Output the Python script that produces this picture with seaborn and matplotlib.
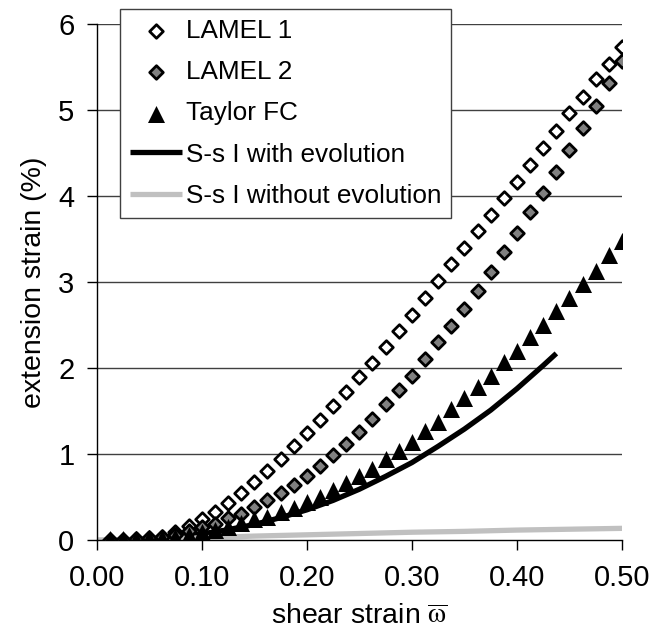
import numpy as np
import pandas as pd
import seaborn as sns
import matplotlib
matplotlib.use("Agg")
import matplotlib.pyplot as plt

# dati
shear = [0.0125, 0.025, 0.0375, 0.05, 0.0625, 0.075, 0.0875, 0.1, 0.1125, 0.125,
         0.1375, 0.15, 0.1625, 0.175, 0.1875, 0.2, 0.2125, 0.225, 0.2375, 0.25,
         0.2625, 0.275, 0.2875, 0.3, 0.3125, 0.325, 0.3375, 0.35, 0.3625, 0.375,
         0.3875, 0.4, 0.4125, 0.425, 0.4375, 0.45, 0.4625, 0.475, 0.4875, 0.5]

lamel1 = [0.00, 0.00, 0.01, 0.02, 0.04, 0.09, 0.16, 0.24, 0.33, 0.43,
          0.55, 0.67, 0.80, 0.94, 1.09, 1.24, 1.39, 1.56, 1.72, 1.89,
          2.06, 2.24, 2.43, 2.62, 2.82, 3.01, 3.21, 3.40, 3.59, 3.78,
          3.98, 4.16, 4.36, 4.56, 4.76, 4.97, 5.15, 5.36, 5.54, 5.74]

lamel2 = [0.00, 0.00, 0.01, 0.02, 0.03, 0.06, 0.10, 0.15, 0.19, 0.25,
          0.30, 0.38, 0.46, 0.55, 0.64, 0.74, 0.86, 0.99, 1.12, 1.26,
          1.41, 1.58, 1.75, 1.91, 2.11, 2.30, 2.49, 2.69, 2.90, 3.12,
          3.35, 3.57, 3.81, 4.04, 4.28, 4.54, 4.79, 5.05, 5.31, 5.57]

taylor = [0.01, 0.01, 0.01, 0.02, 0.02, 0.04, 0.06, 0.09, 0.12, 0.15,
          0.20, 0.24, 0.27, 0.32, 0.375, 0.44, 0.50, 0.58, 0.66, 0.74,
          0.83, 0.94, 1.04, 1.14, 1.27, 1.37, 1.52, 1.65, 1.78, 1.91,
          2.07, 2.20, 2.36, 2.50, 2.66, 2.82, 2.98, 3.13, 3.31, 3.48]

shear_evo = [0.0125, 0.025, 0.05, 0.075, 0.1, 0.125, 0.15, 0.175, 0.2, 0.225,
             0.25, 0.275, 0.3, 0.325, 0.35, 0.375, 0.4, 0.425, 0.4375]
ss_evo = [0.0, 0.0, 0.01, 0.04, 0.07, 0.12, 0.18, 0.26, 0.35, 0.46,
          0.59, 0.74, 0.90, 1.09, 1.29, 1.51, 1.76, 2.03, 2.17]

shear_noevo = [0.0, 0.05, 0.1, 0.15, 0.2, 0.25, 0.3, 0.35, 0.4, 0.45, 0.5]
ss_noevo = [0.0, 0.01, 0.025, 0.045, 0.06, 0.075, 0.09, 0.10, 0.115, 0.125, 0.135]

labels = ['LAMEL 1', 'LAMEL 2', 'Taylor FC', 'S-s I with evolution', 'S-s I without evolution']
yticks = [0, 1, 2, 3, 4, 5, 6]
xticks = [0.0, 0.1, 0.2, 0.3, 0.4, 0.5]

sns.set_style("white")
plt.rcParams['font.family'] = ['Liberation Sans', 'DejaVu Sans']
plt.rcParams['mathtext.fontset'] = 'stix'
for k in ['text.color', 'axes.labelcolor', 'xtick.color', 'ytick.color']:
    plt.rcParams[k] = 'black'

fig = plt.figure(figsize=(6.71, 6.36), dpi=100)
ax = fig.add_axes([0.1441, 0.151, 0.927 - 0.1441, 0.962 - 0.151])

# griglia orizzontale
for yv in yticks[1:]:
    ax.axhline(yv, color='#404040', linewidth=1, zorder=1)

sns.lineplot(x=shear_evo, y=ss_evo, ax=ax, color='black', linewidth=3.8,
             label=labels[3], zorder=2, solid_capstyle='butt')
sns.lineplot(x=shear_noevo, y=ss_noevo, ax=ax, color='#c0c0c0', linewidth=3.8,
             label=labels[4], zorder=2, solid_capstyle='butt')

sns.scatterplot(x=shear, y=lamel1, ax=ax, marker='D', s=48, color='white',
                edgecolor='black', linewidth=2, label=labels[0], zorder=3)
sns.scatterplot(x=shear, y=lamel2, ax=ax, marker='D', s=48, color='#808080',
                edgecolor='black', linewidth=2, label=labels[1], zorder=3)
sns.scatterplot(x=shear, y=taylor, ax=ax, marker='^', s=150, color='black',
                edgecolor='black', linewidth=0, label=labels[2], zorder=3)

ax.set_xlim(0, 0.5)
ax.set_ylim(0, 6)
ax.set_xticks(xticks)
ax.set_xticklabels([f'{v:.2f}' for v in xticks])
ax.set_yticks(yticks)
ax.tick_params(axis='both', direction='out', length=7, width=1, color='black',
               labelsize=21, left=True, bottom=True)
ax.tick_params(axis='x', pad=10)
ax.tick_params(axis='y', pad=9)
for s in ['top', 'right']:
    ax.spines[s].set_visible(False)
for s in ['left', 'bottom']:
    ax.spines[s].set_color('black')
    ax.spines[s].set_linewidth(1)

ax.set_ylabel('extension strain (%)', fontsize=20.5, labelpad=8)
ax.set_xlabel(r'shear strain $\overline{\mathrm{\omega}}$', fontsize=20.5, labelpad=9)

handles, labs = ax.get_legend_handles_labels()
order = [labs.index(l) for l in labels]
leg = ax.legend([handles[i] for i in order], [labs[i] for i in order],
                loc='upper left', bbox_to_anchor=(120 / 671, 1 - 9 / 636),
                bbox_transform=fig.transFigure, borderaxespad=0,
                fontsize=18.8, frameon=True, fancybox=False, framealpha=1,
                edgecolor='#404040', handlelength=2.0, handletextpad=0.15,
                labelspacing=0.66, borderpad=0.38)
leg.get_frame().set_linewidth(1)
leg.set_zorder(5)

fig.savefig('out.png', dpi=100)
